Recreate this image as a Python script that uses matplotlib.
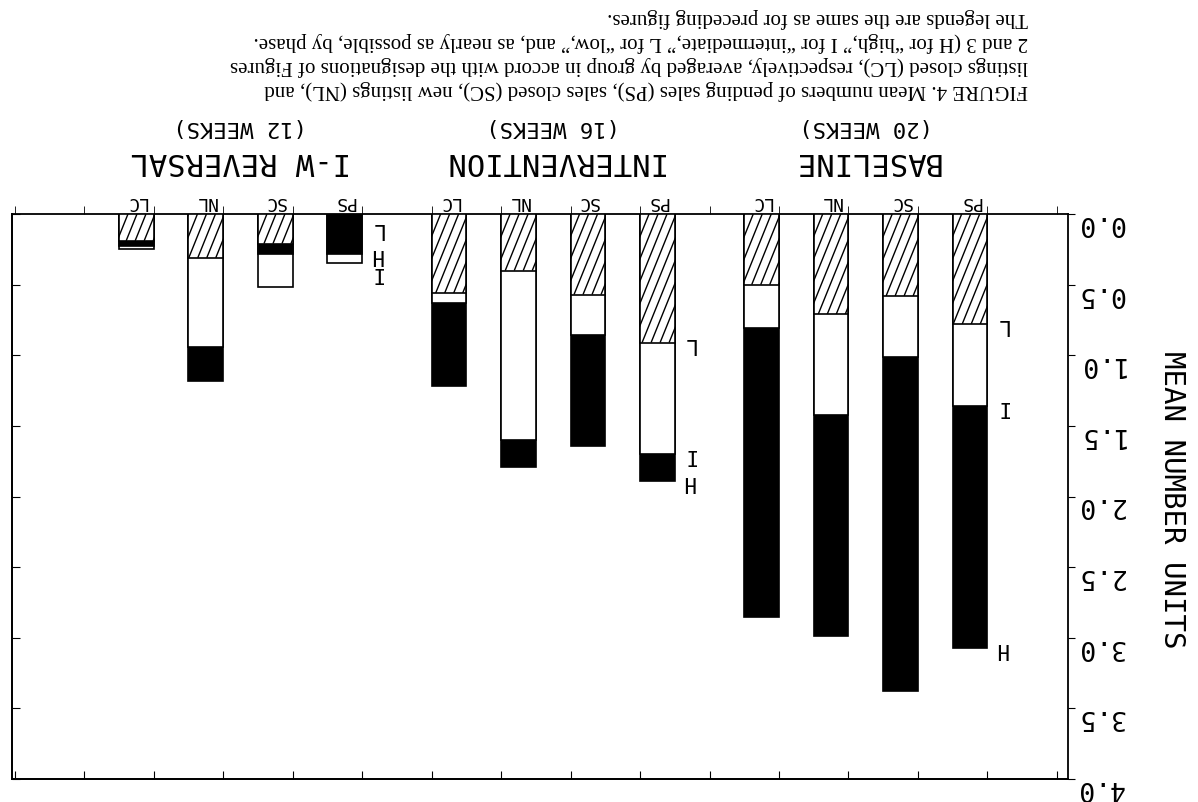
import numpy as np
import matplotlib.pyplot as plt
from matplotlib.collections import LineCollection
from matplotlib.transforms import IdentityTransform, ScaledTranslation, blended_transform_factory

# the scanned figure is printed upside down, so everything is drawn rotated 180 deg
measures = ['PS', 'SC', 'NL', 'LC']
phases = ['BASELINE', 'INTERVENTION', 'I-W REVERSAL']
weeks = ['(20 WEEKS)', '(16 WEEKS)', '(12 WEEKS)']

# mean number of units, bars in order: baseline PS..LC, intervention PS..LC, reversal PS..LC
high = [3.07, 3.38, 2.99, 2.85, 1.89, 1.64, 1.79, 1.22, 0.28, 0.28, 1.18, 0.23]
inter = [1.36, 1.01, 1.42, 0.81, 1.70, 0.86, 1.60, 0.63, 0.35, 0.52, 0.94, 0.25]
low = [0.78, 0.58, 0.71, 0.50, 0.91, 0.57, 0.40, 0.56, 0.00, 0.21, 0.31, 0.19]

yticks = np.arange(0, 4.01, 0.5)
ylabel = 'MEAN NUMBER UNITS'

caption = [
    'FIGURE 4. Mean numbers of pending sales (PS), sales closed (SC), new listings (NL), and',
    'listings closed (LC), respectively, averaged by group in accord with the designations of Figures',
    '2 and 3 (H for \u201chigh,\u201d I for \u201cintermediate,\u201d L for \u201clow,\u201d and, as nearly as possible, by phase.',
    'The legends are the same as for preceding figures.',
]

mono = 'DejaVu Sans Mono'
W, H = 1198, 803
fig = plt.figure(figsize=(W / 100, H / 100), dpi=100)
ax = fig.add_axes([12 / W, 23 / H, 1056 / W, 565 / H])

pos = np.array([1.25 + 4.5 * g + m for g in range(3) for m in range(4)])
ax.set_xlim(15.04, -0.16)
ax.set_ylim(4.0, 0.0)

hatched = []
for i, x in enumerate(pos):
    vals = {'H': high[i], 'I': inter[i], 'L': low[i]}
    # overlapping bars, largest drawn first
    for k, name in enumerate(sorted(vals, key=vals.get, reverse=True)):
        v = vals[name]
        if v <= 0:
            continue
        z = 2 + 2 * k
        b = ax.bar(x, v, width=0.5, facecolor='black' if name == 'H' else 'white',
                   edgecolor='black', linewidth=1.2, zorder=z)[0]
        if name == 'L':
            hatched.append((b, z))

# steep diagonal hatching, clipped to each bar
for b, z in hatched:
    (x0, y0), (x1, y1) = ax.transData.transform(
        [(b.get_x(), b.get_y()), (b.get_x() + b.get_width(), b.get_y() + b.get_height())])
    xa, xb = sorted([x0, x1])
    ya, yb = sorted([y0, y1])
    run = (yb - ya) / np.tan(np.radians(68))
    segs = [[(c, ya), (c + run, yb)] for c in np.arange(xa - run, xb + 9, 9)]
    lc = LineCollection(segs, colors='black', linewidths=1.0,
                        transform=IdentityTransform(), zorder=z + 1)
    ax.add_collection(lc, autolim=False)
    lc.set_clip_path(b)

# group letters next to the PS bar of each phase, nudged apart when close
for i in range(0, 12, 4):
    items = sorted(zip([high[i], inter[i], low[i]], ['H', 'I', 'L']))
    ly = []
    for v, name in items:
        y = max(v, 0.1) if not ly else max(v, ly[-1] + 0.13)
        ly.append(y)
        ax.text(pos[i] - 0.45, y, name, rotation=180, ha='center', va='center',
                fontsize=15, family=mono)

# axes, ticks
ax.set_xticks(pos, labels=measures * 3)
ax.set_xticks(np.arange(16), minor=True)
ax.tick_params(axis='x', which='major', top=True, bottom=False, labeltop=True,
               labelbottom=False, length=0, pad=3, labelsize=13)
ax.tick_params(axis='x', which='minor', top=True, bottom=False, direction='out', length=6)
for t in ax.get_xticklabels():
    t.set_rotation(180)
    t.set_family(mono)

ax.set_yticks(yticks, labels=[f'{v:.1f}' for v in yticks])
ax.tick_params(axis='y', left=False, right=True, labelleft=False, labelright=True,
               direction='out', length=5, pad=1, labelsize=19)
shift = ScaledTranslation(0, -8 / 100, fig.dpi_scale_trans)
for t in ax.get_yticklabels():
    t.set_rotation(180)
    t.set_va('center')
    t.set_family(mono)
    t.set_transform(t.get_transform() + shift)

secx = ax.secondary_xaxis('bottom')
secx.set_xticks(np.arange(16))
secx.tick_params(direction='in', length=6, labelbottom=False)
secy = ax.secondary_yaxis('left')
secy.set_yticks(yticks)
secy.tick_params(direction='in', length=6, labelleft=False)

for sp in list(ax.spines.values()) + [secx.spines['bottom'], secy.spines['left']]:
    sp.set_linewidth(1.3)

ax.yaxis.set_label_position('right')
ax.set_ylabel(ylabel, rotation=270, family=mono, fontsize=21)
ax.yaxis.set_label_coords((1186 - 12) / 1056, (780 - 500) / 565)

# phase titles
trans = blended_transform_factory(ax.transData, ax.transAxes)
for g in range(3):
    cx = pos[g * 4:(g + 1) * 4].mean()
    ax.text(cx, 1.095, phases[g], transform=trans, rotation=180, ha='center', va='center',
            fontsize=22, family=mono)
    ax.text(cx, 1.155, weeks[g], transform=trans, rotation=180, ha='center', va='center',
            fontsize=16, family=mono)

# caption (upside down at the top of the page)
for j, line in enumerate(caption):
    yy = 90 - 24 * j
    fig.text(1028 / W, 1 - yy / H, line, rotation=180, rotation_mode='anchor',
             ha='left', va='center', family='Liberation Serif', fontsize=15)

fig.savefig('out.png', dpi=100, facecolor='white')
